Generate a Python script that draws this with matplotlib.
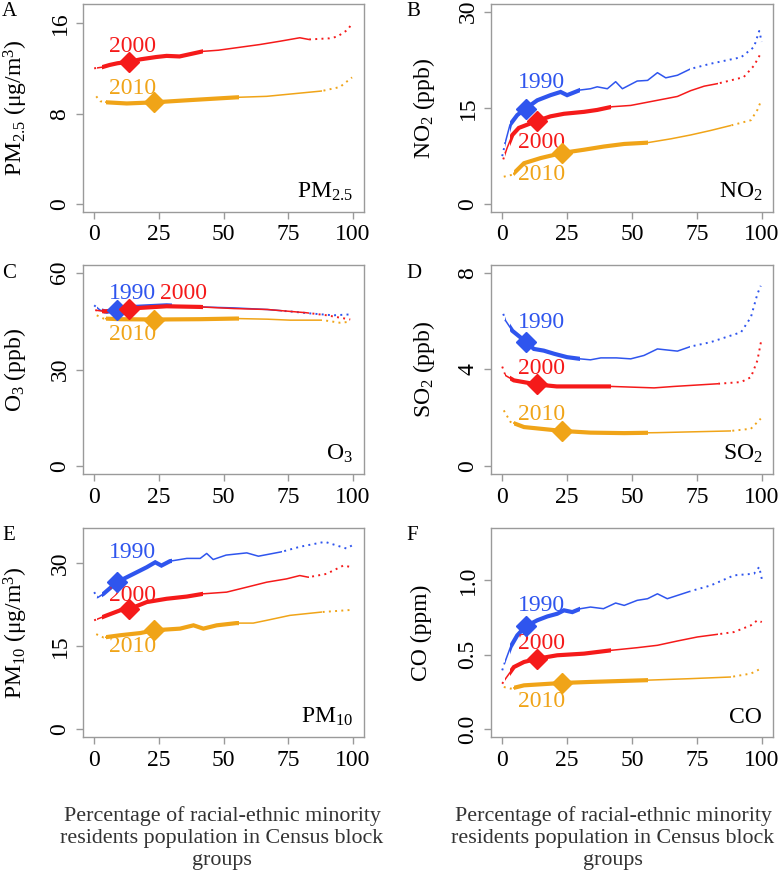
import numpy as np
import matplotlib
matplotlib.use('Agg')
import matplotlib.pyplot as plt
from matplotlib.patches import Rectangle

plt.rcParams['font.family'] = ['Liberation Serif', 'DejaVu Serif']
plt.rcParams['mathtext.fontset'] = 'custom'
plt.rcParams['mathtext.rm'] = 'Liberation Serif'
plt.rcParams['mathtext.it'] = 'Liberation Serif:italic'

YEARS = ['1990', '2000', '2010']
COLORS = {'1990': '#2f55ee', '2000': '#f51a1a', '2010': '#f0a418'}
MEDIAN_PCT = {'1990': 9.0, '2000': 13.5, '2010': 23.2}

# PM2.5 (ug/m3)
pm25_x_2000 = [0, 3, 6, 9, 13.5, 18, 24, 28, 33, 38, 42, 48, 56, 64, 72, 79.5, 83, 87, 91, 94, 96, 98, 99.5]
pm25_y_2000 = [12.0, 12.1, 12.3, 12.45, 12.58, 12.8, 13.0, 13.1, 13.05, 13.3, 13.5, 13.6, 13.85, 14.1, 14.4, 14.7, 14.55, 14.6, 14.65, 14.8, 15.1, 15.4, 15.9]
pm25_x_2010 = [0.8, 2.3, 4.9, 12.6, 23.2, 35.8, 55, 66.7, 88, 95, 99.7]
pm25_y_2010 = [9.53, 9.1, 9.0, 8.9, 9.0, 9.18, 9.44, 9.53, 10.0, 10.35, 11.2]

# NO2 (ppb)
no2_x_1990 = [0, 1.3, 3, 5.8, 9, 13.5, 18.6, 22.5, 25, 30, 34, 36.6, 40.5, 43.7, 46.3, 52, 56, 59.8, 63, 67.5, 72.6, 80.3, 92, 97, 99, 100]
no2_y_1990 = [7.5, 9.8, 12.4, 13.9, 14.9, 16.2, 17.0, 17.5, 17.0, 17.8, 18.0, 18.3, 18.0, 19.1, 18.0, 19.2, 19.3, 20.5, 19.7, 20.1, 21.1, 21.9, 22.9, 24.5, 27.0, 25.3]
no2_x_2000 = [0.4, 1.9, 3.9, 6.4, 13.5, 18.6, 23.8, 31.5, 36.6, 42.4, 49.5, 59.8, 67.5, 72.6, 77.8, 83, 88, 93, 97, 99.6]
no2_y_2000 = [7.0, 8.8, 10.8, 11.9, 13.0, 13.7, 14.1, 14.4, 14.7, 15.2, 15.4, 16.2, 16.8, 17.7, 18.4, 18.8, 19.3, 19.8, 21.6, 23.5]
no2_x_2010 = [0.6, 3.9, 8.4, 14.8, 23.1, 31.5, 39.2, 47, 56, 65, 72.6, 80.3, 89.3, 95.8, 98.3, 99.6]
no2_y_2010 = [4.3, 4.6, 6.4, 7.2, 8.0, 8.5, 9.0, 9.4, 9.6, 10.2, 10.8, 11.5, 12.4, 13.1, 14.7, 16.0]

# O3 (ppb)
o3_x_1990 = [0, 2.3, 4.9, 8.8, 15.2, 28, 41, 54, 67, 77, 83.4, 92.4, 99.5]
o3_y_1990 = [49.9, 48.4, 47.9, 48.4, 49.4, 49.9, 49.4, 49.1, 48.6, 47.9, 47.4, 46.8, 47.1]
o3_x_2000 = [0.4, 4, 13.6, 28, 41, 54, 67, 82, 90, 99]
o3_y_2000 = [48.4, 48.0, 48.9, 49.6, 49.4, 48.9, 48.6, 47.6, 46.8, 45.5]
o3_x_2010 = [1, 3.6, 10, 23.2, 41, 55, 67, 75.7, 88.5, 95, 99]
o3_y_2010 = [46.8, 45.8, 45.6, 45.5, 45.6, 45.8, 45.6, 45.3, 45.3, 44.5, 44.8]

# SO2 (ppb)
so2_x_1990 = [0.4, 1.3, 3.9, 7, 9, 12.2, 16, 20, 25, 30, 34, 38, 44, 49.5, 54.6, 59.8, 67.5, 72.6, 80.3, 92, 95.8, 98.3, 99.6]
so2_y_1990 = [6.3, 6.02, 5.6, 5.33, 5.15, 4.85, 4.78, 4.65, 4.51, 4.44, 4.40, 4.48, 4.48, 4.44, 4.58, 4.85, 4.76, 4.95, 5.13, 5.54, 6.16, 7.12, 7.46]
so2_x_2000 = [0, 1.3, 4.5, 13.5, 21, 34, 42, 58.5, 66.2, 83, 92, 95.8, 98.3, 99.9]
so2_y_2000 = [4.12, 3.75, 3.55, 3.38, 3.30, 3.30, 3.30, 3.24, 3.30, 3.41, 3.48, 3.68, 4.37, 5.26]
so2_x_2010 = [0.6, 3.2, 8.4, 23.1, 34, 47, 60, 88, 95.8, 99.6]
so2_y_2010 = [2.31, 1.83, 1.62, 1.46, 1.39, 1.37, 1.39, 1.46, 1.55, 1.97]

# PM10 (ug/m3)
pm10_x_1990 = [0, 1.3, 3.6, 8.8, 15.2, 20.3, 23.6, 26, 29.3, 35.8, 41, 43.5, 46, 51, 59, 63.5, 72.5, 79.5, 89.2, 97.5, 99.9]
pm10_y_1990 = [24.8, 23.8, 24.5, 26.6, 28.1, 29.3, 30.2, 29.6, 30.4, 30.9, 30.9, 31.8, 30.7, 31.5, 31.9, 31.3, 32.1, 33.0, 33.9, 32.7, 33.3]
pm10_x_2000 = [0, 4.9, 10, 13.9, 20.3, 28, 35.8, 42.2, 51.2, 59, 66.7, 74.4, 79.5, 82.8, 89.8, 96.3, 99.9]
pm10_y_2000 = [19.7, 20.6, 21.5, 21.8, 23.0, 23.6, 24.0, 24.5, 24.8, 25.7, 26.6, 27.2, 27.8, 27.5, 28.1, 29.6, 29.3]
pm10_x_2010 = [0.8, 3.6, 10, 17.8, 23.2, 33.2, 38.4, 42.2, 47.4, 55, 61.5, 66.7, 75.7, 88, 99.9]
pm10_y_2010 = [17.2, 16.6, 17.0, 17.4, 17.9, 18.2, 18.8, 18.2, 18.8, 19.2, 19.2, 19.7, 20.6, 21.2, 21.6]

# CO (ppm)
co_x_1990 = [0, 1.3, 3.2, 5.8, 9, 13.5, 17.4, 21.2, 23.8, 27, 30.2, 34, 39, 43.7, 47, 52, 56, 59.8, 63.6, 72.6, 80.3, 89.3, 97, 99, 100]
co_y_1990 = [0.396, 0.463, 0.553, 0.631, 0.691, 0.732, 0.758, 0.776, 0.799, 0.787, 0.81, 0.821, 0.81, 0.848, 0.832, 0.866, 0.877, 0.91, 0.877, 0.928, 0.966, 1.034, 1.045, 1.09, 1.01]
co_x_2000 = [0, 1.3, 4.5, 8.4, 13.5, 21.2, 31.5, 41.8, 52, 59.8, 67.5, 75.2, 83, 89.3, 95.8, 98.3, 100]
co_y_2000 = [0.306, 0.34, 0.418, 0.452, 0.474, 0.497, 0.508, 0.53, 0.548, 0.564, 0.593, 0.62, 0.638, 0.653, 0.698, 0.732, 0.72]
co_x_2010 = [0.6, 3.2, 8.4, 23.1, 34, 54.6, 72.6, 88, 95.8, 99.6]
co_y_2010 = [0.284, 0.273, 0.295, 0.311, 0.318, 0.329, 0.34, 0.351, 0.374, 0.407]

# style breakpoints along x (dotted end, thick start, thick end, thin end)
BREAKS = {'1990': (1.0, 3.0, 30.0, 72.5), '2000': (1.0, 3.0, 42.0, 83.0), '2010': (4.0, 4.5, 56.0, 88.0)}

panels = [
    dict(letter='A', ylabel=r'PM$_{2.5}$ (μg/m$^3$)', tag=r'PM$_{2.5}$', top=17, ticks=[0, 8, 16], ticklabels=['0', '8', '16'],
         series={'2000': (pm25_x_2000, pm25_y_2000), '2010': (pm25_x_2010, pm25_y_2010)},
         labels={'2000': 13.9, '2010': 10.2}),
    dict(letter='B', ylabel=r'NO$_2$ (ppb)', tag=r'NO$_2$', top=30, ticks=[0, 15, 30], ticklabels=['0', '15', '30'],
         series={'1990': (no2_x_1990, no2_y_1990), '2000': (no2_x_2000, no2_y_2000), '2010': (no2_x_2010, no2_y_2010)},
         labels={'1990': 18.9, '2000': 9.7, '2010': 4.6}),
    dict(letter='C', ylabel=r'O$_3$ (ppb)', tag=r'O$_3$', top=60, ticks=[0, 30, 60], ticklabels=['0', '30', '60'],
         series={'1990': (o3_x_1990, o3_y_1990), '2000': (o3_x_2000, o3_y_2000), '2010': (o3_x_2010, o3_y_2010)},
         labels={'1990': 53.5, '2000': 53.5, '2010': 40.8}),
    dict(letter='D', ylabel=r'SO$_2$ (ppb)', tag=r'SO$_2$', top=8, ticks=[0, 4, 8], ticklabels=['0', '4', '8'],
         series={'1990': (so2_x_1990, so2_y_1990), '2000': (so2_x_2000, so2_y_2000), '2010': (so2_x_2010, so2_y_2010)},
         labels={'1990': 5.94, '2000': 4.04, '2010': 2.14}),
    dict(letter='E', ylabel=r'PM$_{10}$ (μg/m$^3$)', tag=r'PM$_{10}$', top=35, ticks=[0, 15, 30], ticklabels=['0', '15', '30'],
         series={'1990': (pm10_x_1990, pm10_y_1990), '2000': (pm10_x_2000, pm10_y_2000), '2010': (pm10_x_2010, pm10_y_2010)},
         labels={'1990': 32.0, '2000': 24.2, '2010': 15.0}),
    dict(letter='F', ylabel='CO (ppm)', tag='CO', top=1.3, ticks=[0, 0.5, 1.0], ticklabels=['0.0', '0.5', '1.0'],
         series={'1990': (co_x_1990, co_y_1990), '2000': (co_x_2000, co_y_2000), '2010': (co_x_2010, co_y_2010)},
         labels={'1990': 0.832, '2000': 0.577, '2010': 0.188}),
]

W, H = 782, 872
fig = plt.figure(figsize=(W / 100, H / 100), dpi=100)

cols = [(83, 281), (491, 282)]
rows = [(4, 208), (265, 209), (528, 209)]
label_left = {0: 2, 1: 411}
grey = '#9a9a9a'

for i, p in enumerate(panels):
    r, c = divmod(i, 2)
    left, w = cols[c]
    top, h = rows[r]
    ax = fig.add_axes([left / W, (H - top - h) / H, w / W, h / H])
    ax.set_xlim(-4.32, 104.32)
    ax.set_ylim(-0.04 * p['top'], 1.04 * p['top'])
    for s in ax.spines.values():
        s.set_color(grey)
        s.set_linewidth(1.0)
    ax.tick_params(colors=grey, labelcolor='black', length=5, width=1.0, labelsize=17, pad=4)
    ax.set_xticks([0, 25, 50, 75, 100])
    ax.set_yticks(p['ticks'])
    ax.set_yticklabels(p['ticklabels'], rotation=90, va='center')

    for yr, (xs, ys) in p['series'].items():
        col = COLORS[yr]
        xs = np.asarray(xs)
        ys = np.asarray(ys)
        d_end, k_start, k_end, t_end = BREAKS[yr]
        y0, y1 = ax.get_ylim()

        def band(a, b):
            return Rectangle((a, y0), b - a, y1 - y0, transform=ax.transData)

        for a, b in [(-5, d_end), (t_end, 105)]:
            ln, = ax.plot(xs, ys, color=col, lw=1.4, linestyle=(0, (1, 2.2)))
            ln.set_clip_path(band(a, b))
        for a, b in [(d_end, k_start), (k_end, t_end)]:
            ln, = ax.plot(xs, ys, color=col, lw=1.1)
            ln.set_clip_path(band(a, b))
        ln, = ax.plot(xs, ys, color=col, lw=3.0, solid_joinstyle='miter')
        ln.set_clip_path(band(k_start, k_end))

        m = MEDIAN_PCT[yr]
        ax.plot([m], [np.interp(m, xs, ys)], marker='D', ms=10, color=col, mec=col, zorder=5)

        lx = 34.7 if (p['letter'] == 'C' and yr == '2000') else 15.0
        ax.text(lx, p['labels'][yr], yr, color=col, fontsize=17, ha='center', va='center')

    ax.text(0.962, 0.095, p['tag'], transform=ax.transAxes, ha='right', va='center', fontsize=17)

    fig.text(label_left[c] / W, 1 - (top + h / 2) / H, p['ylabel'], rotation=90, ha='left', va='center', fontsize=17)
    fig.text((2 if c == 0 else 406) / W, 1 - (top + 8) / H, p['letter'], ha='left', va='center', fontsize=15)

xlab = 'Percentage of racial-ethnic minority\nresidents population in Census block\ngroups'
for cx in [222, 613]:
    fig.text(cx / W, 1 - 838 / H, xlab, ha='center', va='center', fontsize=15.8, color='#333333', linespacing=1.22)

fig.savefig('out.png', dpi=100)
